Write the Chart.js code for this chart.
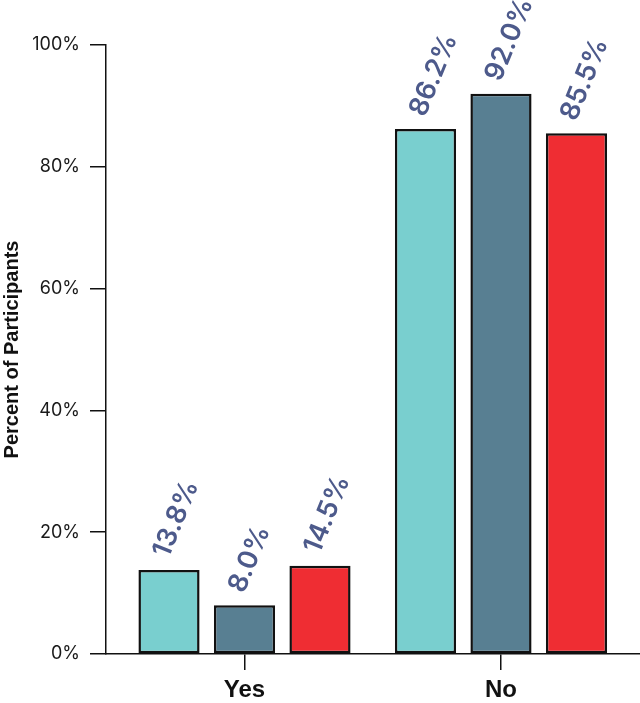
<!DOCTYPE html>
<html>
<head>
<meta charset="utf-8">
<script src="https://cdn.jsdelivr.net/npm/chart.js@4.4.1/dist/chart.umd.min.js"></script>
<style>
  html, body { margin: 0; padding: 0; background: #fff; }
  #wrap { width: 640px; height: 703px; }
</style>
</head>
<body>
<div id="wrap"><canvas id="chart"></canvas></div>
<script>
// Data
const categories = ['Yes', 'No'];
const seriesNames = ['Group 1', 'Group 2', 'Group 3'];
const series1 = [13.8, 86.2];
const series2 = [8.0, 92.0];
const series3 = [14.5, 85.5];
const yTicks = [0, 20, 40, 60, 80, 100];

const colors = ['#79CFCF', '#587F92', '#EF2D33'];
const labelColor = '#4D5A8B';

function toPoints(values) {
    return values.map((v, i) => ({ x: i, y: v }));
}

// draws the rotated value labels above each bar
const valueLabels = {
    id: 'valueLabels',
    afterDatasetsDraw(chart) {
        const ctx = chart.ctx;
        ctx.save();
        ctx.fillStyle = labelColor;
        ctx.font = '600 27px Inter';
        ctx.textAlign = 'left';
        ctx.textBaseline = 'middle';
        chart.data.datasets.forEach((ds, di) => {
            chart.getDatasetMeta(di).data.forEach((bar, i) => {
                ctx.save();
                ctx.translate(bar.x - 8, bar.y - 14);
                ctx.rotate(-68 * Math.PI / 180);
                ctx.fillText(ds.data[i].y.toFixed(1) + '%', 0, 0);
                ctx.restore();
            });
        });
        ctx.restore();
    }
};

const datasets = [series1, series2, series3].map((s, i) => ({
    label: seriesNames[i],
    data: toPoints(s),
    backgroundColor: colors[i],
    borderColor: '#111',
    borderWidth: 2.5,
    borderSkipped: false,
    categoryPercentage: 0.883,
    barPercentage: 0.81
}));

new Chart(document.getElementById('chart'), {
    type: 'bar',
    data: { datasets: datasets },
    options: {
        responsive: true,
        maintainAspectRatio: false,
        animation: false,
        layout: { padding: { top: 45, right: 0, left: 0, bottom: 0 } },
        plugins: {
            legend: { display: false },
            tooltip: { enabled: false }
        },
        scales: {
            x: {
                type: 'linear',
                min: -0.54,
                max: 1.542,
                offset: false,
                afterBuildTicks: scale => {
                    scale.ticks = categories.map((c, i) => ({ value: i }));
                },
                afterFit: scale => { scale.height = 49; },
                ticks: {
                    stepSize: 1,
                    includeBounds: false,
                    callback: v => categories[v],
                    color: '#111',
                    font: { family: 'Liberation Sans', size: 24, weight: '700' },
                    padding: 6,
                    maxRotation: 0
                },
                grid: { offset: false, drawOnChartArea: false, drawTicks: true, tickLength: 16, color: '#111', lineWidth: 1.5 },
                border: { color: '#111', width: 1.5 }
            },
            y: {
                min: 0,
                max: 100,
                afterBuildTicks: scale => {
                    scale.ticks = yTicks.map(v => ({ value: v }));
                },
                afterFit: scale => { scale.width = 106; },
                ticks: {
                    callback: v => v + '%',
                    color: '#1a1a1a',
                    font: { family: 'Inter', size: 18 },
                    padding: 10
                },
                grid: { drawOnChartArea: false, drawTicks: true, tickLength: 16, color: '#111', lineWidth: 1.5 },
                border: { color: '#111', width: 1.5 },
                title: {
                    display: true,
                    text: 'Percent of Participants',
                    color: '#111',
                    font: { family: 'Liberation Sans', size: 20, weight: '700' },
                    padding: 0
                }
            }
        }
    },
    plugins: [valueLabels]
});
</script>
</body>
</html>
